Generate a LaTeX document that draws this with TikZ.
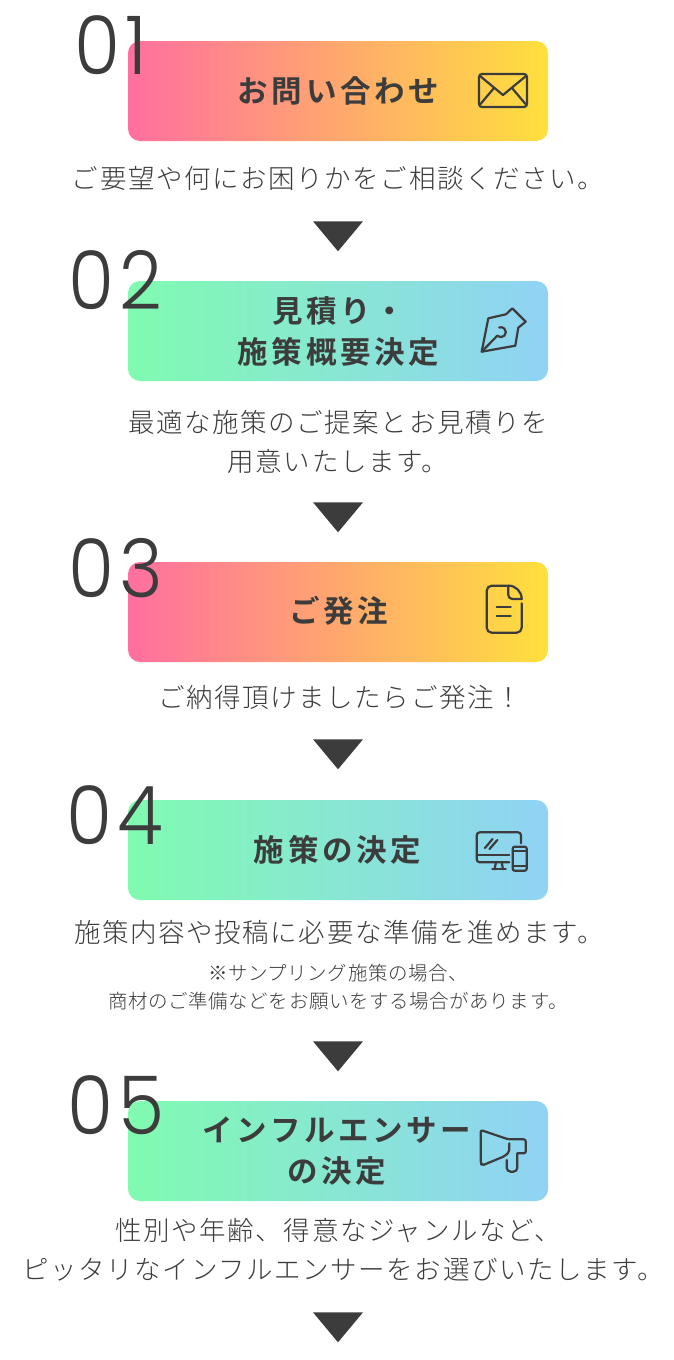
\documentclass[tikz,border=0pt]{standalone}
\usepackage{fontspec}
\usepackage{tikz}
\usetikzlibrary{shapes.geometric}
\newfontfamily\bodyfont[LetterSpace=6]{Noto Sans CJK JP Light}
\newfontfamily\smallfont[LetterSpace=3]{Noto Sans CJK JP Light}
\newfontfamily\headfont[LetterSpace=12]{Noto Sans CJK JP Bold}
\newfontfamily\numfont[LetterSpace=7]{Poppins Light}
\definecolor{ink}{HTML}{3C3C3C}
\definecolor{warmA}{HTML}{FF6FA0}
\definecolor{warmB}{HTML}{FFE03C}
\definecolor{coolA}{HTML}{80FBB0}
\definecolor{coolB}{HTML}{90D2F5}

\begin{document}
\begin{tikzpicture}[x=1pt, y=-1pt,
    box/.style={rounded corners=12pt, minimum width=420pt, minimum height=100pt, inner sep=0pt, shading angle=95},
    warm/.style={box, left color=warmA, right color=warmB},
    cool/.style={box, left color=coolA, right color=coolB},
    head/.style={text=ink, align=center, inner sep=0pt, font={\fontsize{30.5}{41}\selectfont\headfont}},
    body/.style={text=ink, align=center, inner sep=0pt, font={\fontsize{26.5}{39}\selectfont\bodyfont}},
    note/.style={text=ink, align=center, inner sep=0pt, font={\fontsize{19.5}{28}\selectfont\smallfont}},
    num/.style={text=ink, anchor=west, inner sep=0pt, xscale=0.92, font={\fontsize{81}{81}\selectfont\numfont}},
    downtri/.style={isosceles triangle, isosceles triangle stretches, shape border rotate=-90, fill=ink, minimum width=50pt, minimum height=30pt, inner sep=0pt},
    icon/.style={draw=ink, line width=2.2pt, line join=round, line cap=round, fill=none}]

    \useasboundingbox (0,0) rectangle (674,1360);
    \fill[white] (0,0) rectangle (674,1360);

    % boxes
    \node[warm] (contact) at (338,91) {};
    \node[cool] (quote) at (338,331) {};
    \node[warm] (order) at (338,612) {};
    \node[cool] (plan) at (338,850) {};
    \node[cool] (influencer) at (338,1151) {};

    % step numbers
    \node[num] (num1) at (74,45) {01};
    \node[num] (num2) at (68,280) {02};
    \node[num] (num3) at (68,568) {03};
    \node[num] (num4) at (66,815) {04};
    \node[num] (num5) at (67,1105) {05};

    % headings
    \node[head] (contacttext) at (338.5,91) {お問い合わせ};
    \node[head] (quotetext) at (338.5,331) {見積り・\\施策概要決定};
    \node[head] (ordertext) at (338.5,611) {ご発注};
    \node[head] (plantext) at (337.5,850) {施策の決定};
    \node[head] (influencertext) at (337,1151) {インフルエンサー\\の決定};

    % descriptions
    \node[body] (contactbody) at (338,178) {ご要望や何にお困りかをご相談ください。};
    \node[body] (quotebody) at (338,442) {最適な施策のご提案とお見積りを\\用意いたします。};
    \node[body] (orderbody) at (340,697) {ご納得頂けましたらご発注！};
    \node[body] (planbody) at (339,932) {施策内容や投稿に必要な準備を進めます。};
    \node[note] (plannote) at (338,987) {※サンプリング施策の場合、\\商材のご準備などをお願いをする場合があります。};
    \node[body] (influencerbody) at (343,1250) {性別や年齢、得意なジャンルなど、\kern10pt\\ピッタリなインフルエンサーをお選びいたします。};

    % triangles
    \node[downtri] (tri1) at (338,233) {};
    \node[downtri] (tri2) at (338,514) {};
    \node[downtri] (tri3) at (338,751) {};
    \node[downtri] (tri4) at (338,1053) {};
    \node[downtri] (tri5) at (338,1324) {};

    % envelope
    \draw[icon, rounded corners=3pt] (479,74) rectangle (527,107);
    \draw[icon] (480,76) -- (503,95) -- (526,76);
    \draw[icon] (480.5,104) -- (494,88);
    \draw[icon] (525.5,104) -- (512,88);

    % pen
    \draw[icon] (481.7,351.7) -- (488.3,318.3) -- (506,314.3) -- (512.3,308.3) -- (525.7,321.7) -- (518.3,327.7) -- (515.3,345.7) -- cycle;
    \draw[icon] (481.7,351.7) -- (497.3,335.7) arc[start angle=225, end angle=470, radius=5pt];

    % document
    \draw[icon, rounded corners=5pt] (508.3,585.7) -- (486.7,585.7) -- (486.7,632.7) -- (521.7,632.7) -- (521.7,603.3);
    \draw[icon] (508.3,585.7) -- (508.3,595) arc[start angle=180, end angle=270, radius=4pt] -- (521.7,599) arc[start angle=0, end angle=90, radius=13.4pt];
    \draw[icon] (496.7,606.7) -- (510.7,606.7);
    \draw[icon] (496.7,615.7) -- (510.7,615.7);

    % monitor and phone
    \draw[icon, rounded corners=3pt] (509.3,862.3) -- (476.7,862.3) -- (476.7,832.3) -- (521,832.3) -- (521,843.3);
    \draw[icon] (476.7,855) -- (509.3,855);
    \draw[icon] (485,848) -- (492.5,839);
    \draw[icon] (489.5,849) -- (497.3,840);
    \draw[icon] (496,862.3) -- (494.5,869.3);
    \draw[icon] (501.7,862.3) -- (503,869.3);
    \draw[icon] (492.3,869.3) -- (505.7,869.3);
    \draw[icon, rounded corners=2pt] (512.7,846.7) rectangle (526.7,870.7);
    \draw[icon] (512.7,850.7) -- (526.7,850.7);
    \draw[icon] (512.7,865.7) -- (526.7,865.7);

    % megaphone
    \draw[icon, rounded corners=2pt] (509.3,1143.3) -- (509.3,1151.7) -- (505,1156) -- (482,1165.5) -- (480.7,1163) -- (480.7,1130) -- (508.3,1139.3) -- (525.7,1139.3) -- (525.7,1153.3) -- (517.3,1153.3);
    \draw[icon, rounded corners=4pt] (517.3,1153.3) -- (517.3,1171.7) -- (506.7,1171.7) -- (506.7,1160);
\end{tikzpicture}
\end{document}
